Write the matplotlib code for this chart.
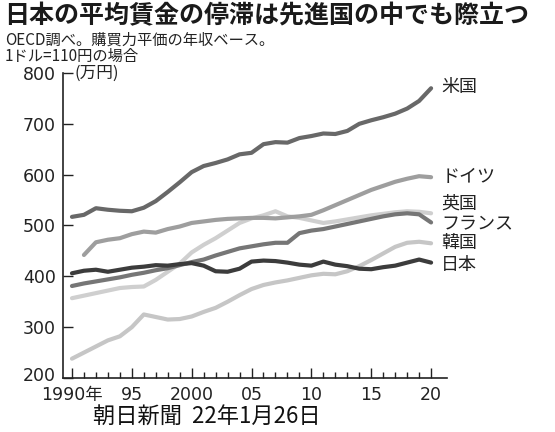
import numpy as np
import matplotlib
matplotlib.use('Agg')
import matplotlib.pyplot as plt
import matplotlib.transforms as mtransforms

plt.rcParams['font.family'] = ['Noto Sans CJK JP', 'DejaVu Sans']

years = list(range(1990, 2021))

usa = [517, 521, 534, 531, 529, 528, 535, 548, 566, 585, 605, 617, 623, 630, 640,
       643, 660, 664, 663, 672, 676, 681, 680, 686, 700, 707, 713, 720, 730, 745, 770]
germany = [np.nan, 442, 467, 472, 475, 483, 488, 486, 493, 498, 505, 508, 511, 513, 514,
           515, 515, 514, 516, 518, 521, 530, 540, 550, 560, 570, 578, 586, 592, 597, 595]
uk = [357, 362, 367, 372, 377, 379, 380, 393, 409, 425, 447, 462, 475, 490, 505,
      514, 520, 528, 518, 515, 510, 505, 508, 512, 516, 520, 523, 526, 528, 527, 524]
france = [381, 386, 390, 394, 398, 403, 407, 412, 416, 422, 428, 433, 441, 448, 455,
          459, 463, 466, 466, 485, 490, 493, 498, 503, 508, 513, 518, 522, 524, 522, 506]
korea = [238, 250, 262, 274, 282, 300, 325, 320, 315, 316, 321, 330, 338, 350, 363,
         375, 383, 388, 392, 397, 402, 405, 404, 410, 420, 432, 445, 458, 466, 468, 465]
japan = [406, 411, 413, 409, 413, 417, 419, 422, 421, 424, 426, 421, 410, 409, 415,
         429, 431, 430, 427, 423, 421, 429, 423, 420, 415, 414, 418, 421, 427, 433, 427]

# name, values, colour, label height (pixels from top of the picture)
series = [
    ('韓国', korea, '#c6c6c6', 243),
    ('英国', uk, '#cfcfcf', 204),
    ('ドイツ', germany, '#9e9e9e', 177),
    ('フランス', france, '#767676', 224),
    ('米国', usa, '#686868', 87),
    ('日本', japan, '#3c3c3c', 265),
]

xticks = [1990, 1995, 2000, 2005, 2010, 2015, 2020]
xticklabels = ['1990年', '95', '2000', '05', '10', '15', '20']
yticks = [200, 300, 400, 500, 600, 700, 800]

fig = plt.figure(figsize=(5.55, 4.32), dpi=100)
ax = fig.add_axes([63 / 555, 1 - 378 / 432, (447 - 63) / 555, (378 - 73) / 432])

for name, vals, color, label_y in series:
    ax.plot(years, vals, color=color, lw=3.0, solid_capstyle='round', solid_joinstyle='round')

ax.set_xlim(1989.25, 2021.33)
ax.set_ylim(200, 800)

# labels at the right end of each line
for name, vals, color, label_y in series:
    ax.text(2020.85, 200 + (378 - label_y) / 0.508, name, fontsize=13, color='#222222',
            va='center', ha='left', clip_on=False)

for s in ['top', 'right']:
    ax.spines[s].set_visible(False)
for s in ['left', 'bottom']:
    ax.spines[s].set_linewidth(1.2)
    ax.spines[s].set_color('#222222')

ax.set_xticks(xticks)
ax.set_xticklabels(xticklabels)
ax.set_xticks(years, minor=True)
ax.set_yticks(yticks)
ax.set_yticklabels([str(v) for v in yticks])
ax.tick_params(axis='x', which='major', direction='in', length=7, width=1, colors='#222222',
               labelsize=12.5, pad=6)
ax.tick_params(axis='x', which='minor', direction='in', length=4, width=1, colors='#222222')
ax.tick_params(axis='y', direction='in', length=7, width=1, colors='#222222',
               labelsize=12.5, pad=5)
for lbl in ax.get_xticklabels() + ax.get_yticklabels():
    lbl.set_family(['DejaVu Sans', 'Noto Sans CJK JP'])

# nudge the "200" label up a little so it clears "1990年"
lbl200 = ax.get_yticklabels()[0]
lbl200.set_transform(lbl200.get_transform() +
                     mtransforms.ScaledTranslation(0, 3 / 72, fig.dpi_scale_trans))

ax.text(1990.2, 800, '(万円)', fontsize=12, color='#222222', va='center', ha='left', clip_on=False)

fig.text(4 / 555, 1 - 16 / 432, '日本の平均賃金の停滞は先進国の中でも際立つ', fontsize=18,
         fontweight='bold', color='#1a1a1a', va='center', ha='left')
fig.text(5 / 555, 1 - 40 / 432, 'OECD調べ。購買力平価の年収ベース。', fontsize=11,
         color='#222222', va='center', ha='left')
fig.text(5 / 555, 1 - 56 / 432, '1ドル=110円の場合', fontsize=11,
         color='#222222', va='center', ha='left')

fig.text(93 / 555, 1 - 416 / 432, '朝日新聞  22年1月26日', fontsize=16,
         color='#111111', va='center', ha='left')

fig.savefig('out.png', dpi=100)
